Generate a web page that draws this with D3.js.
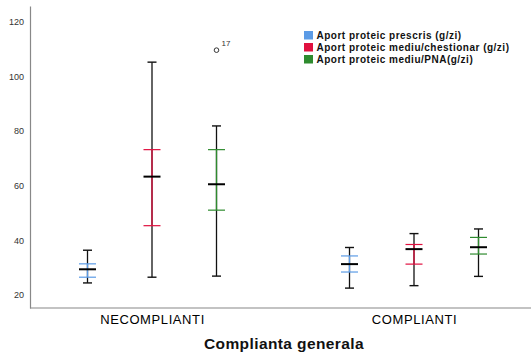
<!DOCTYPE html>
<html>
<head>
<meta charset="utf-8">
<script src="https://cdn.jsdelivr.net/npm/d3@7"></script>
<style>
  body { margin: 0; background: #fff; }
  svg { display: block; font-family: "Liberation Sans", Arial, sans-serif; }
</style>
</head>
<body>
<div id="container"></div>
<script>
// data
const groups = ["NECOMPLIANTI", "COMPLIANTI"]
const seriesNames = ["Aport proteic prescris (g/zi)", "Aport proteic mediu/chestionar (g/zi)", "Aport proteic mediu/PNA(g/zi)"]
const seriesColors = ["#5b9be6", "#e0103f", "#2e8b2e"]
// per group, per series: [min, q1, median, q3, max]
const necomplianti = [
    [24.3, 26.4, 29.3, 31.3, 36.3],
    [26.4, 45.3, 63.3, 73.2, 105.3],
    [26.8, 51.0, 60.5, 73.2, 81.9]
]
const complianti = [
    [22.4, 28.3, 31.2, 34.2, 37.3],
    [23.3, 31.2, 36.7, 38.4, 42.4],
    [26.7, 34.9, 37.4, 41.0, 44.1]
]
const outliers = [{group: "NECOMPLIANTI", series: 2, value: 109.7, label: "17"}]
const yTicks = [20, 40, 60, 80, 100, 120]

let width = 531
let height = 353
let margin = {top: 6, right: 0, bottom: 45, left: 30}

let boxes = []
groups.forEach((g, gi) => {
    let vals = gi == 0 ? necomplianti : complianti
    vals.forEach((v, si) => {
        boxes.push({group: g, series: si, min: v[0], q1: v[1], med: v[2], q3: v[3], max: v[4]})
    })
})

let svg = d3.select("#container")
    .append("svg")
    .attr("width", width)
    .attr("height", height)

let x = d3.scalePoint()
    .domain(groups)
    .range([152, 414])

let xs = d3.scalePoint()
    .domain(d3.range(seriesNames.length))
    .range([-64.5, 64.5])

let y = d3.scaleLinear()
    .domain([15.1, 125.9])
    .range([height - margin.bottom, margin.top])

// axes
svg.append("g")
    .attr("transform", `translate(${margin.left},0)`)
    .call(d3.axisLeft(y).tickValues(yTicks).tickSize(0).tickPadding(6))
    .call(g => g.select(".domain").attr("stroke", "#888").attr("stroke-width", 1.2))
    .call(g => g.selectAll("text").attr("font-size", 9).attr("fill", "#333")
        .attr("font-family", "Liberation Sans, Arial, sans-serif"))

svg.append("g")
    .attr("transform", `translate(0,${height - margin.bottom})`)
    .call(d3.axisBottom(x).tickSize(0).tickPadding(7))
    .call(g => g.select(".domain").attr("d", `M${margin.left},0H${width}`)
        .attr("stroke", "#888").attr("stroke-width", 1.2))
    .call(g => g.selectAll("text").attr("font-size", 13).attr("fill", "#000")
        .attr("letter-spacing", 0.6)
        .attr("font-family", "Liberation Sans, Arial, sans-serif"))

svg.append("text")
    .attr("x", 284)
    .attr("y", 349)
    .attr("text-anchor", "middle")
    .attr("font-size", 15.5)
    .attr("letter-spacing", 0.4)
    .attr("font-weight", "bold")
    .attr("fill", "#111")
    .text("Complianta generala")

// boxes
let cx = d => x(d.group) + xs(d.series)

let b = svg.append("g")
    .selectAll("g")
    .data(boxes)
    .join("g")

// whisker line
b.append("line")
    .attr("x1", cx).attr("x2", cx)
    .attr("y1", d => y(d.min)).attr("y2", d => y(d.max))
    .attr("stroke", "#111").attr("stroke-width", 1.3)

// colored part between quartiles
b.append("line")
    .attr("x1", cx).attr("x2", cx)
    .attr("y1", d => y(d.q1)).attr("y2", d => y(d.q3))
    .attr("stroke", d => seriesColors[d.series]).attr("stroke-width", 1.3)

// caps
b.selectAll(".cap")
    .data(d => [{d, v: d.min}, {d, v: d.max}])
    .join("line")
    .attr("class", "cap")
    .attr("x1", e => cx(e.d) - 4.5).attr("x2", e => cx(e.d) + 4.5)
    .attr("y1", e => y(e.v)).attr("y2", e => y(e.v))
    .attr("stroke", "#111").attr("stroke-width", 1.4)

// quartile lines
b.selectAll(".quart")
    .data(d => [{d, v: d.q1}, {d, v: d.q3}])
    .join("line")
    .attr("class", "quart")
    .attr("x1", e => cx(e.d) - 8.5).attr("x2", e => cx(e.d) + 8.5)
    .attr("y1", e => y(e.v)).attr("y2", e => y(e.v))
    .attr("stroke", e => seriesColors[e.d.series]).attr("stroke-width", 1.2)

// median
b.append("line")
    .attr("x1", d => cx(d) - 8.5).attr("x2", d => cx(d) + 8.5)
    .attr("y1", d => y(d.med)).attr("y2", d => y(d.med))
    .attr("stroke", "#000").attr("stroke-width", 2)

// outliers
let o = svg.append("g")
    .selectAll("g")
    .data(outliers)
    .join("g")

o.append("circle")
    .attr("cx", d => x(d.group) + xs(d.series))
    .attr("cy", d => y(d.value))
    .attr("r", 2.3)
    .attr("fill", "none")
    .attr("stroke", "#333")
    .attr("stroke-width", 1)

o.append("text")
    .attr("x", d => x(d.group) + xs(d.series) + 5)
    .attr("y", d => y(d.value) - 4)
    .attr("font-size", 8)
    .attr("fill", "#333")
    .text(d => d.label)

// legend
let legend = svg.append("g")
    .attr("transform", "translate(304,31)")
    .selectAll("g")
    .data(seriesNames)
    .join("g")
    .attr("transform", (d, i) => `translate(0,${i * 12})`)

legend.append("rect")
    .attr("width", 9)
    .attr("height", 8.5)
    .attr("fill", (d, i) => seriesColors[i])

legend.append("text")
    .attr("x", 12.5)
    .attr("y", 8)
    .attr("font-size", 10)
    .attr("letter-spacing", 0.5)
    .attr("font-weight", "bold")
    .attr("fill", "#111")
    .text(d => d)
</script>
</body>
</html>
